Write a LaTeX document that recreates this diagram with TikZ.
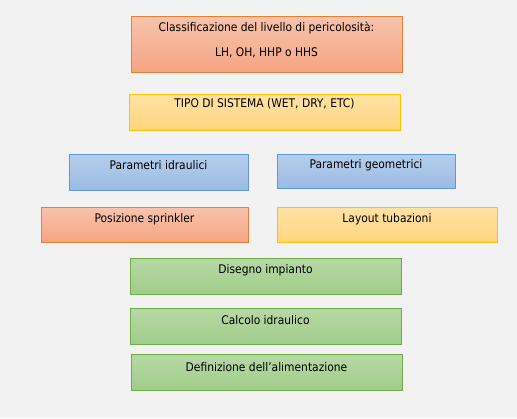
\documentclass[tikz,border=0pt]{standalone}
\usepackage{fontspec}
\setmainfont{DejaVu Sans Condensed}
\begin{document}
\begin{tikzpicture}[x=1pt,y=-1pt,
  box/.style={draw, line width=0.9pt, rectangle, inner sep=0pt},
  orangebox/.style={box, draw={rgb,255:red,237;green,125;blue,49}, top color={rgb,255:red,248;green,195;blue,172}, bottom color={rgb,255:red,244;green,165;blue,131}},
  yellowbox/.style={box, draw={rgb,255:red,255;green,192;blue,0}, top color={rgb,255:red,255;green,226;blue,164}, bottom color={rgb,255:red,255;green,213;blue,127}},
  bluebox/.style={box, draw={rgb,255:red,91;green,155;blue,213}, top color={rgb,255:red,182;green,206;blue,236}, bottom color={rgb,255:red,155;green,187;blue,228}},
  greenbox/.style={box, draw={rgb,255:red,112;green,173;blue,71}, top color={rgb,255:red,183;green,217;blue,166}, bottom color={rgb,255:red,160;green,204;blue,138}},
  txt/.style={font=\fontsize{11.9}{13}\selectfont, inner sep=0pt, text=black}
]
\fill[fill={rgb,255:red,242;green,242;blue,242}] (0,0) rectangle (517,418);
\useasboundingbox (0,0) rectangle (517,418);

\shade[orangebox] (131,16) rectangle (402,72);
\node[txt] (t1a) at (266.5,28) {Classificazione del livello di pericolosità:};
\node[txt] (t1b) at (266.5,53) {LH, OH, HHP o HHS};

\shade[yellowbox] (129,94) rectangle (400,130);
\node[txt] (t2) at (264.5,104) {TIPO DI SISTEMA (WET, DRY, ETC)};

\shade[bluebox] (69,154) rectangle (248,190);
\node[txt] (t3) at (158.5,165) {Parametri idraulici};

\shade[bluebox] (277,154) rectangle (455,188);
\node[txt] (t4) at (366,165) {Parametri geometrici};

\shade[orangebox] (41,207) rectangle (248,242);
\node[txt] (t5) at (144.5,219) {Posizione sprinkler};

\shade[yellowbox] (277,207) rectangle (497,242);
\node[txt] (t6) at (387,219) {Layout tubazioni};

\shade[greenbox] (130,258) rectangle (401,294);
\node[txt] (t7) at (265.5,270) {Disegno impianto};

\shade[greenbox] (130,308) rectangle (401,344);
\node[txt] (t8) at (265.5,320) {Calcolo idraulico};

\shade[greenbox] (131,354) rectangle (402,390);
\node[txt] (t9) at (266.5,367) {Definizione dell’alimentazione};
\end{tikzpicture}
\end{document}
